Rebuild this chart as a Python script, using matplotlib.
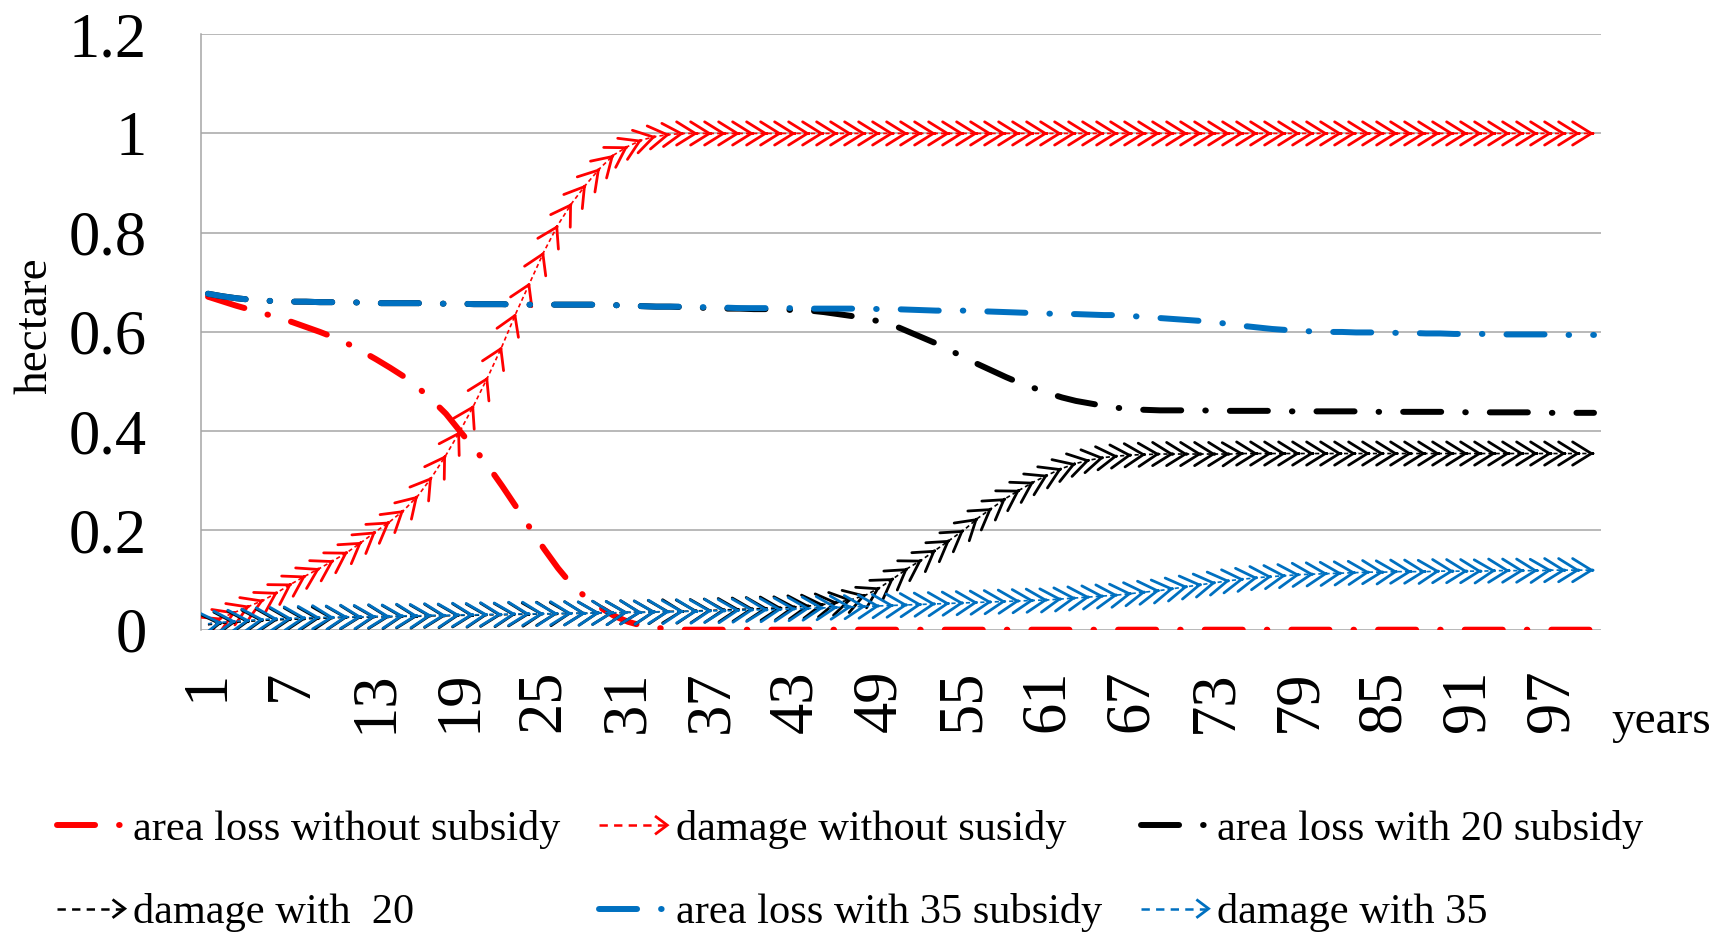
import matplotlib
matplotlib.use("Agg")
import matplotlib.pyplot as plt
import numpy as np
from matplotlib.patches import FancyArrowPatch, ArrowStyle
from matplotlib.lines import Line2D
from matplotlib.legend_handler import HandlerBase

plt.rcParams['font.family'] = ['Liberation Serif', 'DejaVu Serif']
plt.rcParams['lines.scale_dashes'] = False

# ---------------- data ----------------
years = list(range(1, 101))
xtick_years = [1, 7, 13, 19, 25, 31, 37, 43, 49, 55, 61, 67, 73, 79, 85, 91, 97]
ytick_vals = [0, 0.2, 0.4, 0.6, 0.8, 1.0, 1.2]
ytick_labels = ['0', '0.2', '0.4', '0.6', '0.8', '1', '1.2']

area_loss_without_subsidy = [
    0.671, 0.662, 0.653, 0.645, 0.637, 0.629, 0.620, 0.610, 0.600, 0.589,
    0.576, 0.561, 0.545, 0.528, 0.510, 0.488, 0.463, 0.435, 0.400, 0.366,
    0.330, 0.290, 0.248, 0.205, 0.163, 0.124, 0.090, 0.065, 0.045, 0.028,
    0.016, 0.008, 0.004, 0.001, 0.0, 0.0, 0.0, 0.0, 0.0, 0.0,
    0.0, 0.0, 0.0, 0.0, 0.0, 0.0, 0.0, 0.0, 0.0, 0.0,
    0.0, 0.0, 0.0, 0.0, 0.0, 0.0, 0.0, 0.0, 0.0, 0.0,
    0.0, 0.0, 0.0, 0.0, 0.0, 0.0, 0.0, 0.0, 0.0, 0.0,
    0.0, 0.0, 0.0, 0.0, 0.0, 0.0, 0.0, 0.0, 0.0, 0.0,
    0.0, 0.0, 0.0, 0.0, 0.0, 0.0, 0.0, 0.0, 0.0, 0.0,
    0.0, 0.0, 0.0, 0.0, 0.0, 0.0, 0.0, 0.0, 0.0, 0.0]

damage_without_subsidy = [
    0.010, 0.024, 0.036, 0.048, 0.060, 0.076, 0.093, 0.109, 0.124, 0.140,
    0.157, 0.177, 0.198, 0.218, 0.241, 0.270, 0.308, 0.352, 0.400, 0.453,
    0.510, 0.571, 0.638, 0.700, 0.762, 0.816, 0.860, 0.897, 0.930, 0.957,
    0.974, 0.987, 0.994, 0.998, 1.0, 1.0, 1.0, 1.0, 1.0, 1.0,
    1.0, 1.0, 1.0, 1.0, 1.0, 1.0, 1.0, 1.0, 1.0, 1.0,
    1.0, 1.0, 1.0, 1.0, 1.0, 1.0, 1.0, 1.0, 1.0, 1.0,
    1.0, 1.0, 1.0, 1.0, 1.0, 1.0, 1.0, 1.0, 1.0, 1.0,
    1.0, 1.0, 1.0, 1.0, 1.0, 1.0, 1.0, 1.0, 1.0, 1.0,
    1.0, 1.0, 1.0, 1.0, 1.0, 1.0, 1.0, 1.0, 1.0, 1.0,
    1.0, 1.0, 1.0, 1.0, 1.0, 1.0, 1.0, 1.0, 1.0, 1.0]

area_loss_with_20 = [
    0.677, 0.672, 0.668, 0.665, 0.663, 0.662, 0.661, 0.661, 0.660, 0.660,
    0.660, 0.659, 0.658, 0.658, 0.658, 0.658, 0.657, 0.657, 0.657, 0.656,
    0.656, 0.656, 0.655, 0.655, 0.655, 0.655, 0.655, 0.655, 0.655, 0.654,
    0.653, 0.652, 0.651, 0.651, 0.650, 0.649, 0.648, 0.647, 0.647, 0.646,
    0.646, 0.645, 0.644, 0.643, 0.640, 0.636, 0.632, 0.627, 0.621, 0.613,
    0.601, 0.589, 0.577, 0.563, 0.549, 0.535, 0.522, 0.509, 0.497, 0.487,
    0.477, 0.468, 0.461, 0.456, 0.451, 0.447, 0.444, 0.443, 0.442, 0.442,
    0.442, 0.442, 0.441, 0.441, 0.441, 0.441, 0.441, 0.440, 0.440, 0.440,
    0.440, 0.440, 0.440, 0.439, 0.439, 0.439, 0.439, 0.439, 0.439, 0.439,
    0.438, 0.438, 0.438, 0.438, 0.438, 0.438, 0.437, 0.437, 0.437, 0.437]

damage_with_20 = [
    0.010, 0.013, 0.015, 0.017, 0.019, 0.020, 0.021, 0.022, 0.023, 0.024,
    0.025, 0.025, 0.026, 0.026, 0.027, 0.027, 0.028, 0.028, 0.029, 0.029,
    0.030, 0.030, 0.031, 0.031, 0.032, 0.032, 0.033, 0.033, 0.034, 0.034,
    0.035, 0.035, 0.036, 0.037, 0.037, 0.038, 0.039, 0.040, 0.041, 0.042,
    0.043, 0.044, 0.046, 0.048, 0.051, 0.055, 0.061, 0.070, 0.085, 0.104,
    0.124, 0.141, 0.161, 0.181, 0.201, 0.225, 0.245, 0.265, 0.282, 0.298,
    0.312, 0.325, 0.335, 0.342, 0.347, 0.350, 0.352, 0.353, 0.354, 0.354,
    0.354, 0.354, 0.354, 0.354, 0.355, 0.355, 0.355, 0.355, 0.355, 0.355,
    0.355, 0.355, 0.355, 0.355, 0.355, 0.355, 0.355, 0.355, 0.355, 0.355,
    0.355, 0.355, 0.355, 0.355, 0.355, 0.355, 0.355, 0.355, 0.355, 0.355]

area_loss_with_35 = [
    0.677, 0.672, 0.668, 0.665, 0.663, 0.662, 0.661, 0.661, 0.660, 0.660,
    0.660, 0.659, 0.658, 0.658, 0.658, 0.658, 0.657, 0.657, 0.657, 0.656,
    0.656, 0.656, 0.655, 0.655, 0.655, 0.655, 0.655, 0.655, 0.655, 0.654,
    0.653, 0.652, 0.651, 0.651, 0.651, 0.650, 0.650, 0.649, 0.648, 0.648,
    0.648, 0.648, 0.648, 0.647, 0.647, 0.647, 0.647, 0.647, 0.646, 0.646,
    0.645, 0.644, 0.643, 0.643, 0.643, 0.642, 0.641, 0.640, 0.639, 0.638,
    0.637, 0.636, 0.636, 0.635, 0.634, 0.634, 0.632, 0.630, 0.628, 0.626,
    0.624, 0.622, 0.619, 0.616, 0.612, 0.609, 0.606, 0.604, 0.602, 0.601,
    0.600, 0.600, 0.599, 0.599, 0.599, 0.598, 0.598, 0.597, 0.597, 0.596,
    0.596, 0.596, 0.595, 0.595, 0.595, 0.595, 0.595, 0.594, 0.594, 0.594]

damage_with_35 = [
    0.012, 0.015, 0.017, 0.019, 0.021, 0.022, 0.023, 0.024, 0.025, 0.025,
    0.026, 0.026, 0.027, 0.027, 0.028, 0.028, 0.029, 0.029, 0.030, 0.030,
    0.031, 0.031, 0.032, 0.032, 0.032, 0.033, 0.033, 0.033, 0.034, 0.034,
    0.035, 0.035, 0.036, 0.036, 0.037, 0.037, 0.038, 0.038, 0.039, 0.040,
    0.040, 0.041, 0.042, 0.043, 0.044, 0.045, 0.046, 0.047, 0.048, 0.049,
    0.050, 0.051, 0.052, 0.053, 0.054, 0.055, 0.056, 0.057, 0.058, 0.059,
    0.060, 0.062, 0.064, 0.066, 0.068, 0.070, 0.073, 0.076, 0.079, 0.083,
    0.087, 0.091, 0.095, 0.099, 0.102, 0.105, 0.107, 0.109, 0.111, 0.112,
    0.113, 0.114, 0.115, 0.116, 0.116, 0.117, 0.117, 0.117, 0.118, 0.118,
    0.118, 0.118, 0.119, 0.119, 0.119, 0.119, 0.120, 0.120, 0.120, 0.120]

labels = ['area loss without subsidy', 'damage without susidy',
          'area loss with 20 subsidy', 'damage with  20',
          'area loss with 35 subsidy', 'damage with 35']

RED = '#FF0000'
BLACK = '#000000'
BLUE = '#0070C0'
GRID = '#A6A6A6'

# ---------------- styling helpers ----------------
DASHDOT = (27.4, 17.3, 0.4, 17.3)
AREA_LW = 4.3
SHAFT_LW = 1.2
SHAFT_DASH = (3.0, 2.2)
HEAD_LW = 2.0
HEAD = ArrowStyle('->', head_length=1.0, head_width=0.62)


def area_line(ax, x, y, color, z):
    ax.plot(x, y, color=color, lw=AREA_LW, dashes=DASHDOT,
            dash_capstyle='round', solid_capstyle='round', zorder=z)


def arrow_line(ax, x, y, color, z):
    ax.plot(x, y, color=color, lw=SHAFT_LW, dashes=SHAFT_DASH, zorder=z)
    for i in range(1, len(x)):
        xa = x[i - 1] + 0.9 * (x[i] - x[i - 1])
        ya = y[i - 1] + 0.9 * (y[i] - y[i - 1])
        p = FancyArrowPatch((xa, ya), (x[i], y[i]), arrowstyle=HEAD,
                            mutation_scale=13.5, lw=HEAD_LW, color=color,
                            shrinkA=0, shrinkB=0, capstyle='round',
                            joinstyle='round', zorder=z)
        ax.add_patch(p)


class HandlerArrowLine(HandlerBase):
    def create_artists(self, legend, orig_handle, xdescent, ydescent,
                       width, height, fontsize, trans):
        c = orig_handle.get_color()
        y = height / 2 - ydescent
        x0 = -xdescent
        x1 = width - xdescent
        shaft = Line2D([x0, x1 - 1], [y, y], color=c, lw=1.8,
                       dashes=(6.0, 4.5), transform=trans)
        head = Line2D([x1 - 8, x1, x1 - 8], [y + 6, y, y - 6],
                      color=c, lw=2.0, solid_joinstyle='miter',
                      transform=trans)
        return [shaft, head]


# ---------------- figure ----------------
W, H = 1729, 938
fig = plt.figure(figsize=(W / 100, H / 100), dpi=100)
L, R, T, B = 201, 1601, 34.2, 629.7
ax = fig.add_axes([L / W, 1 - B / H, (R - L) / W, (B - T) / H])

area_line(ax, years, area_loss_without_subsidy, RED, 3)
arrow_line(ax, years, damage_without_subsidy, RED, 4)
area_line(ax, years, area_loss_with_20, BLACK, 5)
arrow_line(ax, years, damage_with_20, BLACK, 6)
area_line(ax, years, area_loss_with_35, BLUE, 7)
arrow_line(ax, years, damage_with_35, BLUE, 8)

ax.set_xlim(0.5, 100.5)
ax.set_ylim(0, 1.2)
ax.set_xticks(xtick_years)
ax.set_xticklabels([str(v) for v in xtick_years], rotation=90)
ax.set_yticks(ytick_vals)
ax.set_yticklabels(ytick_labels)
ax.tick_params(axis='x', length=0, pad=29, labelsize=45)
ax.tick_params(axis='y', length=0, pad=39, labelsize=45)
ax.yaxis.grid(True, color=GRID, lw=1.1)
ax.set_axisbelow(True)
for s in ['top', 'right', 'bottom']:
    ax.spines[s].set_visible(False)
ax.spines['left'].set_color(GRID)
ax.spines['left'].set_linewidth(1.1)

fig.text(35 / W, 1 - 326 / H, 'hectare', rotation=90, ha='center',
         va='center', fontsize=34)
fig.text(1611 / W, 1 - 733 / H, 'years', ha='left', va='baseline',
         fontsize=34)

# ---------------- legend ----------------
h_a0 = Line2D([], [], color=RED, lw=AREA_LW, dashes=DASHDOT,
              dash_capstyle='round')
h_d0 = Line2D([], [], color=RED)
h_a20 = Line2D([], [], color=BLACK, lw=AREA_LW, dashes=DASHDOT,
               dash_capstyle='round')
h_d20 = Line2D([], [], color=BLACK)
h_a35 = Line2D([], [], color=BLUE, lw=AREA_LW, dashes=DASHDOT,
               dash_capstyle='round')
h_d35 = Line2D([], [], color=BLUE)
hmap = {h_d0: HandlerArrowLine(), h_d20: HandlerArrowLine(),
        h_d35: HandlerArrowLine()}
handles = [h_a0, h_d20, h_d0, h_a35, h_a20, h_d35]
leg_labels = [labels[0], labels[3], labels[1], labels[4], labels[2], labels[5]]
fig.legend(handles, leg_labels, handler_map=hmap, ncol=3, loc='upper left',
           bbox_to_anchor=(57 / W, 1 - 810 / H), frameon=False, fontsize=30.5,
           borderpad=0, borderaxespad=0, handlelength=1.6,
           handletextpad=0.2, columnspacing=0.92, labelspacing=1.05)

fig.savefig('out.png', dpi=100)
